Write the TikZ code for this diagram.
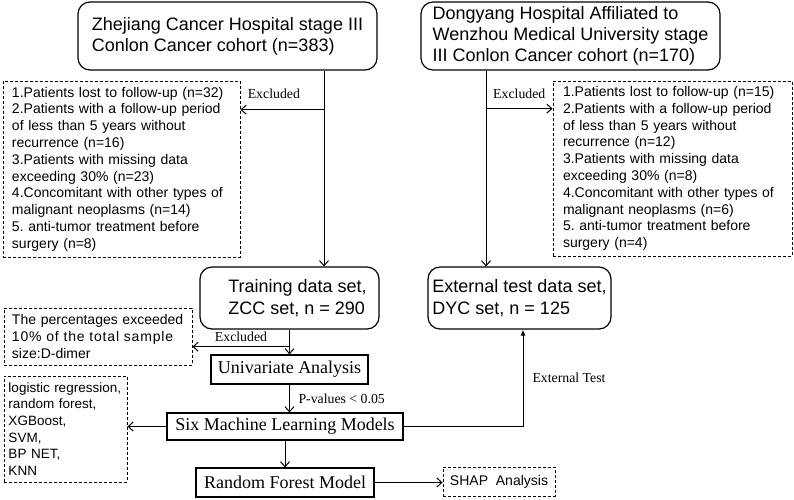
\documentclass[tikz,border=0pt]{standalone}
\usepackage{fontspec}
\setmainfont{Liberation Serif}
\setsansfont{Liberation Sans}
\usetikzlibrary{arrows.meta,calc}
\frenchspacing

\begin{document}
\begin{tikzpicture}[
    x=1pt, y=-1pt,
    rbox/.style={draw, line width=1.2pt, rounded corners=12pt, align=left, inner ysep=1pt, font=\sffamily\fontsize{18}{21}\selectfont},
    sbox/.style={draw, line width=1.2pt, inner sep=2pt, font=\fontsize{18}{21}\selectfont},
    dbox/.style={draw, line width=0.9pt, dash pattern=on 3pt off 2pt, align=left, font=\sffamily\fontsize{14}{16.8}\selectfont},
    lbl/.style={font=\fontsize{13.8}{16}\selectfont, inner sep=1pt},
    arr/.style={-{Straight Barb[length=5pt,width=9pt]}, line width=1pt},
    arrup/.style={-{Latex[length=6pt,width=5pt]}, line width=1pt},
  ]
    \useasboundingbox (0,0) rectangle (794,499);

    % cohorts
    \node[rbox, minimum width=299pt, minimum height=68pt] (zj) at (227.5,36) {Zhejiang Cancer Hospital stage III\\Conlon Cancer cohort (n=383)};
    \node[rbox, minimum width=299pt, minimum height=68pt] (dy) at (570.5,36) {Dongyang Hospital Affiliated to\\Wenzhou Medical University stage\\III Conlon Cancer cohort (n=170)};

    % exclusion lists
    \node[dbox, text width=219pt, minimum width=237pt, minimum height=176pt] (exl) at (121.5,169) {1.Patients lost to follow-up (n=32)\\2.Patients with a follow-up period\\of less than 5 years without\\recurrence (n=16)\\3.Patients with missing data\\exceeding 30\% (n=23)\\4.Concomitant with other types of\\malignant neoplasms (n=14)\\5. anti-tumor treatment before\\surgery (n=8)};
    \node[dbox, text width=219pt, minimum width=239pt, minimum height=175pt] (exr) at (672.5,168.5) {1.Patients lost to follow-up (n=15)\\2.Patients with a follow-up period\\of less than 5 years without\\recurrence (n=12)\\3.Patients with missing data\\exceeding 30\% (n=8)\\4.Concomitant with other types of\\malignant neoplasms (n=6)\\5. anti-tumor treatment before\\surgery (n=4)};

    % data sets
    \node[rbox, minimum width=179pt, minimum height=62pt, font=\sffamily\fontsize{18}{22}\selectfont] (train) at (289.5,298) {\hspace*{16pt}Training data set,\\\hspace*{16pt}ZCC set, n = 290};
    \node[rbox, minimum width=183pt, minimum height=62pt, font=\sffamily\fontsize{18}{22}\selectfont] (ext) at (519.5,298) {External test data set,\\DYC set, n = 125};

    % modelling steps
    \node[dbox, text width=172pt, minimum width=188pt, minimum height=57pt] (pct) at (98,336.5) {The percentages exceeded\\\makebox[\hsize][s]{\addfontfeatures{LetterSpace=6}10\% of the total sample}\\size:D-dimer};
    \node[sbox, minimum width=157pt, minimum height=29pt] (uni) at (289.5,369.5) {Univariate Analysis};
    \node[sbox, minimum width=236pt, minimum height=27pt] (six) at (285,426.5) {Six Machine Learning Models};
    \node[dbox, font=\sffamily\fontsize{13.5}{16.7}\selectfont, text width=114pt, minimum width=123pt, minimum height=106pt] (mdl) at (65.5,429) {logistic regression,\\random forest,\\XGBoost,\\SVM,\\BP NET,\\KNN};
    \node[sbox, minimum width=178pt, minimum height=29pt] (rf) at (285,482.5) {Random Forest Model};
    \node[dbox, minimum width=112pt, minimum height=29pt] (shap) at (499,481.5) {SHAP~~Analysis};

    \coordinate (zjx) at ([xshift=96.5pt,yshift=-39pt]zj.south);
    \coordinate (dyx) at ([xshift=-84.5pt,yshift=-38pt]dy.south);
    \coordinate (trx) at ($(train.south)!0.69!(uni.north)$);

    \draw[arr] ([xshift=96.5pt]zj.south) -- ([xshift=34.5pt]train.north);
    \draw[arr] (zjx) -- (zjx -| exl.east) node[lbl, above=9pt, pos=0.6] {Excluded};
    \draw[arr] ([xshift=-84.5pt]dy.south) -- ([xshift=-33.5pt]ext.north);
    \draw[arr] (dyx) -- (dyx -| exr.west) node[lbl, above=8pt, midway] {Excluded};
    \draw[arr] (train) -- (uni);
    \draw[arr] (trx) -- (trx -| pct.east) node[lbl, above=4pt, midway] {Excluded};
    \draw[arr] (uni) -- (uni |- six.north) node[lbl, right=7.5pt, midway] {P-values < 0.05};
    \draw[arr] (six) -- (six -| mdl.east);
    \draw[arrup] (six) -| ([xshift=3.5pt]ext.south) node[lbl, right=8pt, pos=0.75] {External Test};
    \draw[arr] (six) -- (rf);
    \draw[arr] (rf) -- (rf -| shap.west);
  \end{tikzpicture}
\end{document}
